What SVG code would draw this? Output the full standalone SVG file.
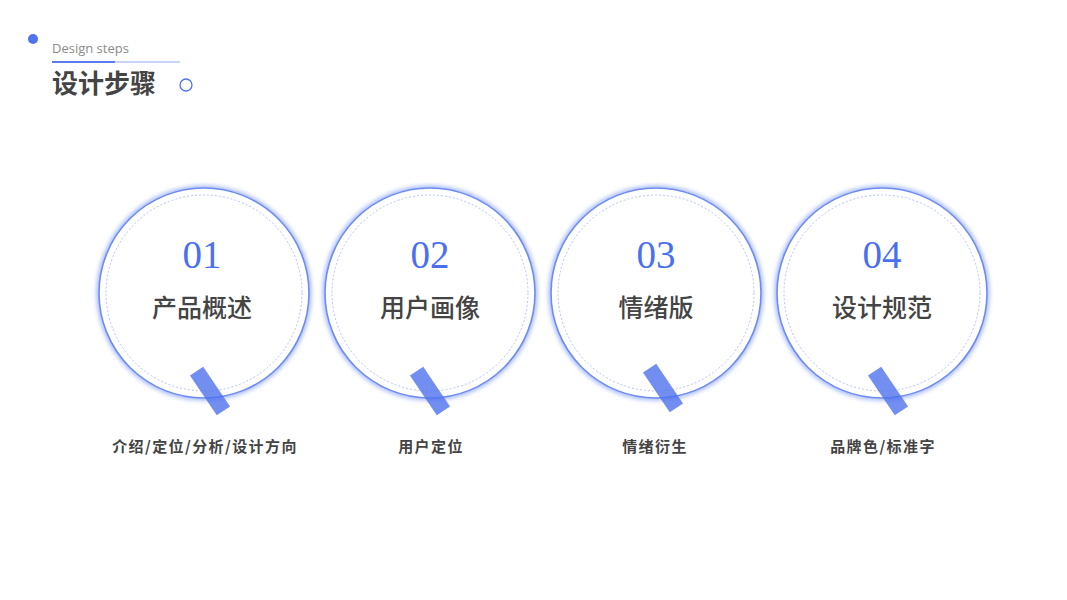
<svg xmlns="http://www.w3.org/2000/svg" width="1067" height="600" viewBox="0 0 1067 600">
<style>
.ring{fill:#fff;stroke:#6d8cf3;stroke-width:1.6}
.glow{fill:none;stroke:#7f9af6;stroke-width:5;opacity:0.7}
.dash{fill:none;stroke:#9fb3f8;stroke-width:0.8;stroke-dasharray:2 2}
.num{font-family:"Liberation Serif",serif;font-size:39px;fill:#4a6ff0;text-anchor:middle}
.title{font-family:"Noto Sans CJK SC",sans-serif;font-size:25px;font-weight:500;fill:#444;text-anchor:middle}
.sub{font-family:"Noto Sans CJK SC",sans-serif;font-size:15px;font-weight:700;fill:#444;text-anchor:middle;letter-spacing:1.4px}
.tab{fill:#4f72ee;opacity:0.8}
</style>
<defs>
<filter id="blur" x="-20%" y="-20%" width="140%" height="140%"><feGaussianBlur stdDeviation="2.2"/></filter>
</defs>
<g id="header">
<circle cx="33" cy="39" r="5" fill="#4f72ee"/>
<text x="52" y="53" font-family="Open Sans,sans-serif" font-size="13" fill="#8a8a8a">Design steps</text>
<rect x="52" y="61" width="128" height="2" fill="#c9d4fb"/>
<rect x="52" y="61" width="63" height="2" fill="#5b7cf0"/>
<text x="52" y="93" font-family="Noto Sans CJK SC,sans-serif" font-size="26" font-weight="700" fill="#444">设计步骤</text>
<circle cx="186" cy="85" r="6" fill="none" stroke="#4f72ee" stroke-width="1.3"/>
</g>
<g id="step1">
<circle class="glow" cx="204" cy="293" r="105" filter="url(#blur)"/>
<circle class="ring" cx="204" cy="293" r="105"/>
<circle class="dash" cx="204" cy="293" r="98"/>
<text class="num" x="202" y="268">01</text>
<text class="title" x="202" y="317">产品概述</text>
<rect class="tab" x="-24" y="-8" width="48" height="16" transform="translate(210,391) rotate(56)"/>
<text class="sub" x="205" y="452">介绍/定位/分析/设计方向</text>
</g>
<g id="step2">
<circle class="glow" cx="430" cy="293" r="105" filter="url(#blur)"/>
<circle class="ring" cx="430" cy="293" r="105"/>
<circle class="dash" cx="430" cy="293" r="98"/>
<text class="num" x="430" y="268">02</text>
<text class="title" x="430" y="317">用户画像</text>
<rect class="tab" x="-24" y="-8" width="48" height="16" transform="translate(430,391) rotate(56)"/>
<text class="sub" x="431" y="452">用户定位</text>
</g>
<g id="step3">
<circle class="glow" cx="656" cy="293" r="105" filter="url(#blur)"/>
<circle class="ring" cx="656" cy="293" r="105"/>
<circle class="dash" cx="656" cy="293" r="98"/>
<text class="num" x="656" y="268">03</text>
<text class="title" x="656" y="317">情绪版</text>
<rect class="tab" x="-24" y="-8" width="48" height="16" transform="translate(663,388) rotate(56)"/>
<text class="sub" x="655" y="452">情绪衍生</text>
</g>
<g id="step4">
<circle class="glow" cx="882" cy="293" r="105" filter="url(#blur)"/>
<circle class="ring" cx="882" cy="293" r="105"/>
<circle class="dash" cx="882" cy="293" r="98"/>
<text class="num" x="882" y="268">04</text>
<text class="title" x="882" y="317">设计规范</text>
<rect class="tab" x="-24" y="-8" width="48" height="16" transform="translate(888,391) rotate(56)"/>
<text class="sub" x="883" y="452">品牌色/标准字</text>
</g>
<g id="connectors"/>
</svg>
